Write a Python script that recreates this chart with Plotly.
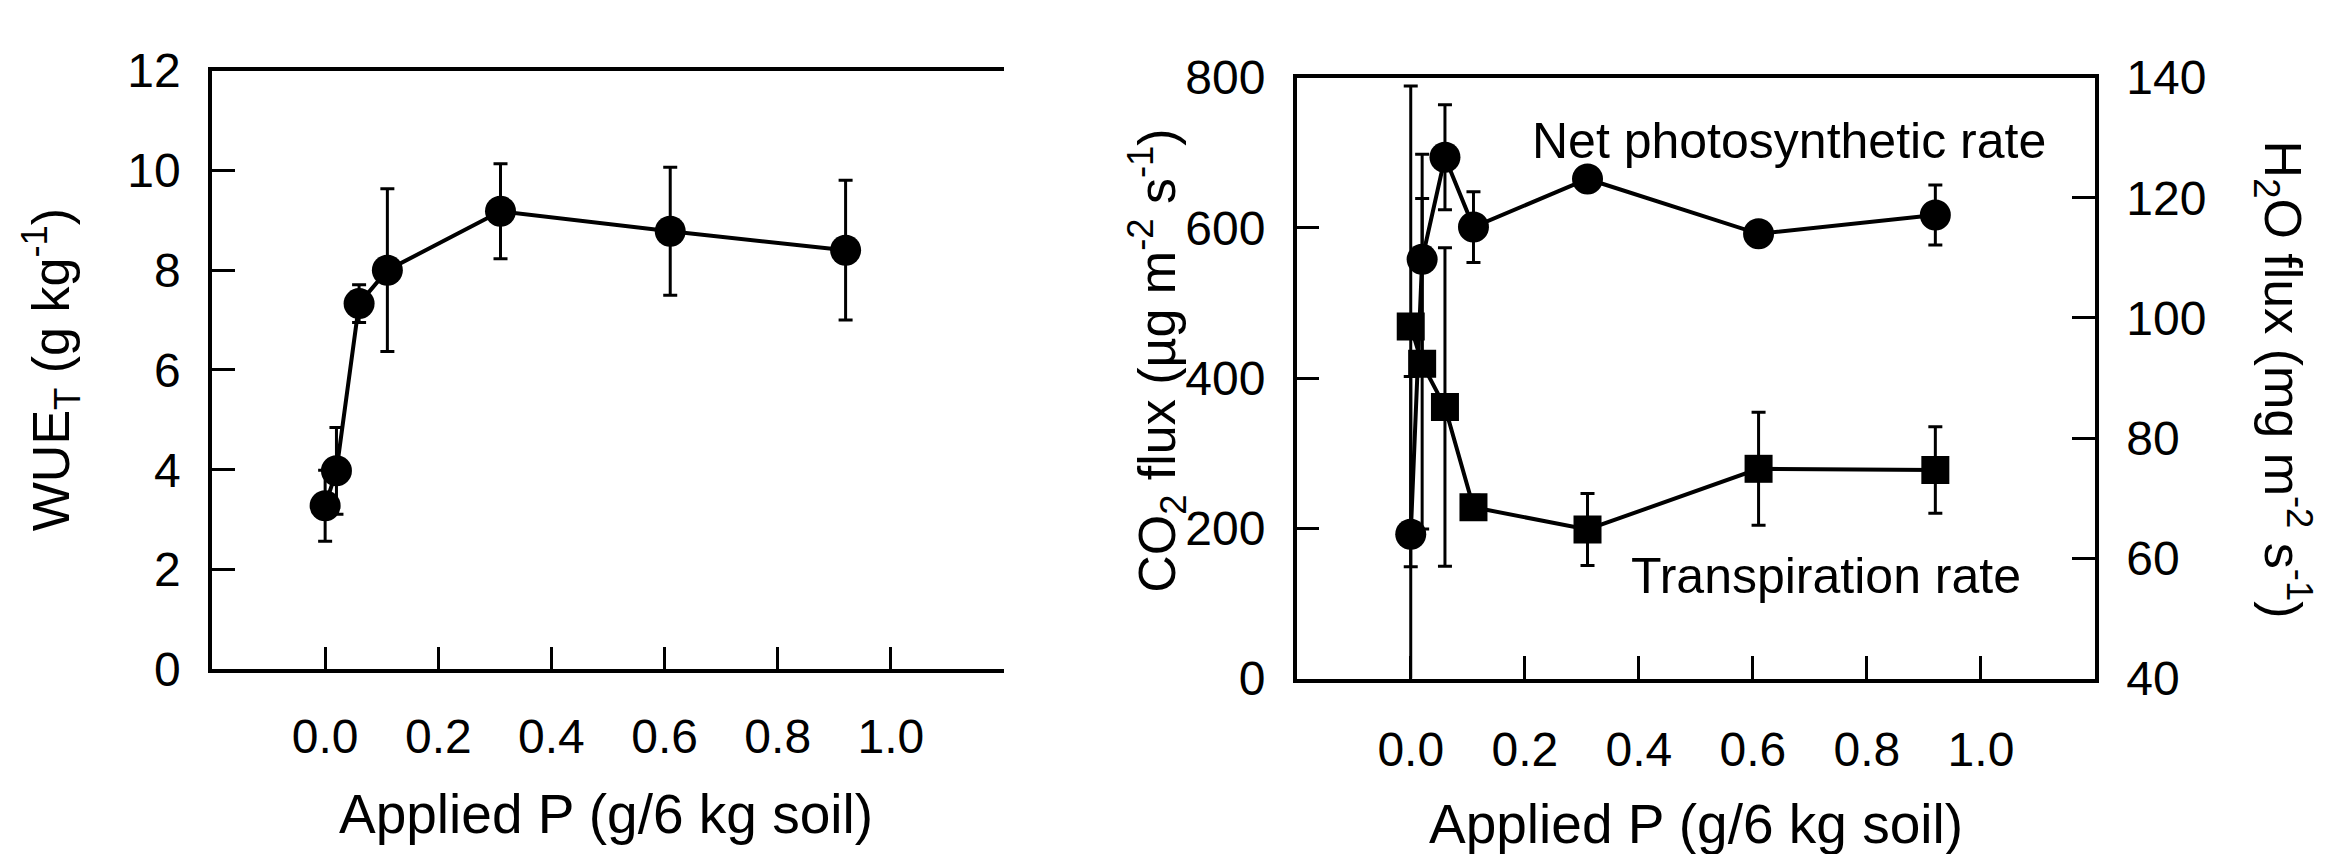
import plotly.graph_objects as go

# ---------------- data ----------------
applied_p = [0.0, 0.02, 0.06, 0.11, 0.31, 0.61, 0.92]

wue = [3.28, 3.98, 7.33, 8.0, 9.18, 8.78, 8.4]
wue_err = [0.71, 0.87, 0.38, 1.63, 0.95, 1.28, 1.4]

net_photo = [192, 558, 694, 601, 665, 592, 617]
net_photo_err = [210, 140, 70, 47, 10, 10, 40]

transp = [98.6, 92.4, 85.2, 68.5, 64.8, 74.9, 74.7]
transp_err = [40, 27.5, 26.5, 2, 6, 9.4, 7.2]

x_tickvals = [0.0, 0.2, 0.4, 0.6, 0.8, 1.0]
x_ticktext = ["0.0", "0.2", "0.4", "0.6", "0.8", "1.0"]

# ---------------- style ----------------
W, H = 2343, 854
FONT = "Liberation Sans, Arial, Helvetica, sans-serif"
TICK_FS = 48
TITLE_FS = 55
LABEL_FS = 50
LW = 4

def px_x(p):
    return p / W

def px_y(p):
    return 1 - p / H

err_style = dict(type="data", visible=True, color="black", thickness=3, width=7)

fig = go.Figure()

# left panel
fig.add_trace(go.Scatter(
    x=applied_p, y=wue, mode="lines+markers", xaxis="x", yaxis="y",
    line=dict(color="black", width=LW),
    marker=dict(symbol="circle", size=31, color="black"),
    error_y=dict(array=wue_err, **err_style),
))

# right panel: net photosynthetic rate (CO2 flux, left axis)
fig.add_trace(go.Scatter(
    x=applied_p, y=net_photo, mode="lines+markers", xaxis="x2", yaxis="y2",
    line=dict(color="black", width=LW),
    marker=dict(symbol="circle", size=31, color="black"),
    error_y=dict(array=net_photo_err, **err_style),
))

# right panel: transpiration rate (H2O flux, right axis)
fig.add_trace(go.Scatter(
    x=applied_p, y=transp, mode="lines+markers", xaxis="x2", yaxis="y3",
    line=dict(color="black", width=LW),
    marker=dict(symbol="square", size=28, color="black"),
    error_y=dict(array=transp_err, **err_style),
))

axis_common = dict(
    showline=True, linecolor="black", linewidth=3.5,
    ticks="inside", ticklen=23, tickwidth=3, tickcolor="black",
    showgrid=False, zeroline=False,
    tickfont=dict(family=FONT, size=TICK_FS, color="black"),
)

fig.update_layout(
    width=W, height=H,
    margin=dict(l=0, r=0, t=0, b=0),
    paper_bgcolor="white", plot_bgcolor="white",
    showlegend=False,
    font=dict(family=FONT, color="black"),
    xaxis=dict(
        domain=[px_x(212), px_x(1004)], anchor="y",
        range=[-0.2, 1.2], tickvals=x_tickvals, ticktext=x_ticktext,
        mirror=True, ticklabelstandoff=22, **axis_common,
    ),
    yaxis=dict(
        domain=[px_y(686), px_y(47.5)], anchor="x",
        range=[0, 12], dtick=2, tick0=0,
        ticklabelstandoff=18, **axis_common,
    ),
    xaxis2=dict(
        domain=[px_x(1296.7), px_x(2095)], anchor="y2",
        range=[-0.2, 1.2], tickvals=x_tickvals, ticktext=x_ticktext,
        mirror=True, ticklabelstandoff=26, **axis_common,
    ),
    yaxis2=dict(
        domain=[px_y(695.7), px_y(55)], anchor="x2",
        range=[0, 800], dtick=200, tick0=0,
        ticklabelstandoff=18, **axis_common,
    ),
    yaxis3=dict(
        domain=[px_y(695.7), px_y(55)], anchor="x2", overlaying="y2", side="right",
        range=[40, 140], dtick=20, tick0=40,
        ticklabelstandoff=18, **axis_common,
    ),
)

title_font = dict(family=FONT, size=TITLE_FS, color="black")
label_font = dict(family=FONT, size=LABEL_FS, color="black")

annotations = [
    dict(text="Applied P (g/6 kg soil)", xref="paper", yref="paper",
         x=px_x(606), y=px_y(840), xanchor="center", yanchor="middle",
         showarrow=False, font=title_font),
    dict(text="Applied P (g/6 kg soil)", xref="paper", yref="paper",
         x=px_x(1696), y=px_y(851), xanchor="center", yanchor="middle",
         showarrow=False, font=title_font),
    dict(text="WUE<sub>T</sub> (g kg<sup>-1</sup>)", xref="paper", yref="paper",
         x=px_x(51), y=px_y(367), xanchor="center", yanchor="middle",
         textangle=-90, showarrow=False, font=dict(family=FONT, size=52, color="black")),
    dict(text="CO<sub>2</sub> flux (µg m<sup>-2</sup> s<sup>-1</sup>)", xref="paper", yref="paper",
         x=px_x(1157), y=px_y(357), xanchor="center", yanchor="middle",
         textangle=-90, showarrow=False, font=dict(family=FONT, size=52, color="black")),
    dict(text="H<sub>2</sub>O flux (mg m<sup>-2</sup> s<sup>-1</sup>)", xref="paper", yref="paper",
         x=px_x(2283), y=px_y(377), xanchor="center", yanchor="middle",
         textangle=90, showarrow=False, font=dict(family=FONT, size=52, color="black")),
    dict(text="Net photosynthetic rate", xref="x2", yref="y2",
         x=0.21, y=716, xanchor="left", yanchor="middle",
         showarrow=False, font=label_font),
    dict(text="Transpiration rate", xref="x2", yref="y2",
         x=0.383, y=137, xanchor="left", yanchor="middle",
         showarrow=False, font=label_font),
]
fig.update_layout(annotations=annotations)

fig.write_html("out.html")
